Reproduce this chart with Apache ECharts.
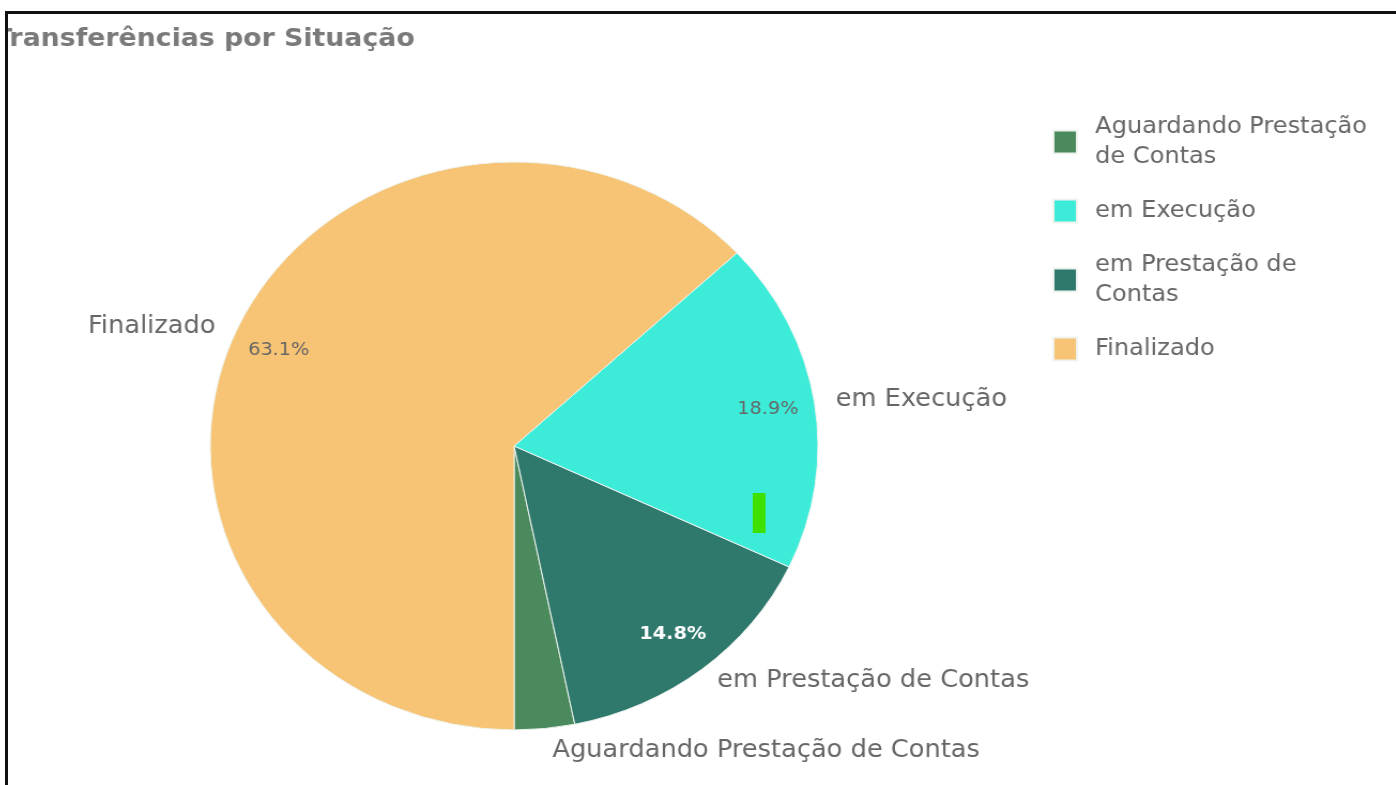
<!DOCTYPE html>
<html>
<head>
<meta charset="utf-8">
<title>Transferências por Situação</title>
<script src="https://cdn.jsdelivr.net/npm/echarts@6/dist/echarts.min.js"></script>
<style>
  html, body { margin: 0; padding: 0; background: #fff; overflow: hidden; }
  #frame {
    position: absolute; left: 5px; top: 11px; width: 1391px; height: 774px;
    border-top: 3px solid #111; border-left: 3px solid #111; overflow: hidden;
  }
  /* the reference is stretched sideways a bit, so stretch the whole chart */
  #main {
    position: absolute; left: 0; top: 0; width: 1297px; height: 771px;
    transform: scaleX(1.07); transform-origin: 0 0;
  }
</style>
</head>
<body>
<div id="frame"><div id="main"></div></div>
<script>
// situações na ordem das fatias (anti-horário a partir das 6h)
const categories = ['Aguardando Prestação de Contas', 'em Prestação de Contas', 'em Execução', 'Finalizado'];
// percentuais
const shares = [3.2, 14.8, 18.9, 63.1];
const colors = ['#4a8a5d', '#2f786c', '#3cecd9', '#f6c474'];
// ordem da legenda
const legendOrder = ['Aguardando Prestação de Contas', 'em Execução', 'em Prestação de Contas', 'Finalizado'];
// rótulo da legenda quebrado em duas linhas
const legendNames = {
  'Aguardando Prestação de Contas': 'Aguardando Prestação\nde Contas',
  'em Prestação de Contas': 'em Prestação de\nContas'
};

const chart = echarts.init(document.getElementById('main'));
const font = '"DejaVu Sans", sans-serif';

let seriesData = categories.map((c, i) => {
  let d = { name: c, value: shares[i], itemStyle: { color: colors[i] } };
  // rótulo da fatia pequena fica um pouco mais afastado
  if (i === 0) d.labelLine = { length: 22 };
  return d;
});

let pctData = categories.map((c, i) => {
  let d = { name: c, value: shares[i] };
  if (i === 0) d.label = { show: false };
  if (i === 1) d.label = { color: '#fff', fontWeight: 'bold' };
  return d;
});

chart.setOption({
  animation: false,
  title: {
    text: 'Transferências por Situação',
    left: -13,
    top: 13,
    padding: 0,
    textStyle: { fontFamily: font, fontSize: 25, fontWeight: 'bold', color: '#7a7a7a' }
  },
  legend: {
    orient: 'vertical',
    left: 976,
    top: 98,
    padding: 0,
    icon: 'rect',
    itemWidth: 22,
    itemHeight: 23,
    itemGap: 24,
    selectedMode: false,
    data: legendOrder,
    formatter: name => legendNames[name] || name,
    textStyle: { fontFamily: font, fontSize: 22.5, lineHeight: 30, color: '#666', padding: [0, 0, 0, 12] }
  },
  graphic: [{
    type: 'rect',
    z: 100,
    left: 696,
    top: 479,
    shape: { width: 12, height: 40 },
    style: { fill: '#3ee000' }
  }],
  series: [
    {
      name: 'Situação',
      type: 'pie',
      center: [473, 432],
      radius: [0, 284],
      startAngle: -90,
      clockwise: false,
      avoidLabelOverlap: false,
      data: seriesData,
      itemStyle: { borderColor: '#eef3ee', borderWidth: 1 },
      label: {
        position: 'outside',
        formatter: '{b}',
        fontFamily: font,
        fontSize: 24,
        color: '#666'
      },
      labelLine: { show: false, length: 15, length2: 0 },
      emphasis: { disabled: true }
    },
    {
      name: 'pct',
      type: 'pie',
      center: [473, 432],
      radius: [190, 284],
      startAngle: -90,
      clockwise: false,
      avoidLabelOverlap: false,
      silent: true,
      data: pctData,
      itemStyle: { color: 'transparent' },
      label: {
        position: 'inside',
        formatter: p => p.value.toFixed(1) + '%',
        fontFamily: font,
        fontSize: 18,
        color: '#666'
      },
      labelLine: { show: false },
      emphasis: { disabled: true }
    }
  ]
});
</script>
</body>
</html>
